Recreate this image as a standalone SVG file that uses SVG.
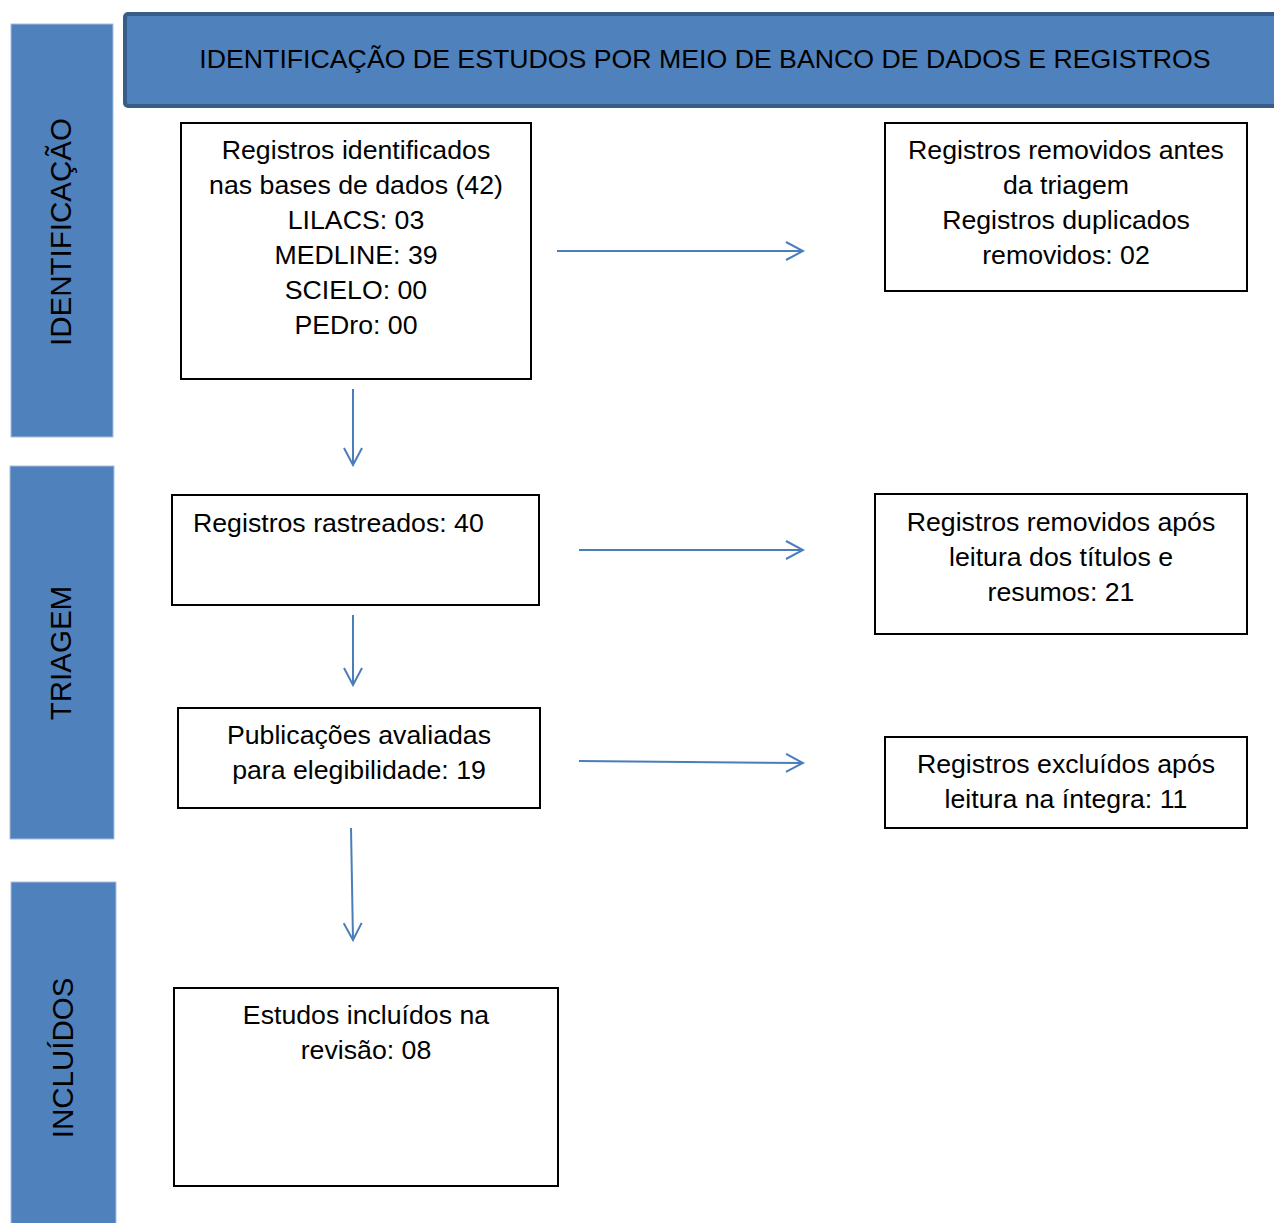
<svg xmlns="http://www.w3.org/2000/svg" width="1274" height="1223" viewBox="0 0 1274 1223">
<defs>
<style>
.side{fill:#4F81BD;stroke:#A8C0E0;stroke-width:1}
.box{fill:#fff;stroke:#000;stroke-width:2}
.t{font-family:"Liberation Sans",Arial,sans-serif;font-size:26.7px;fill:#000;text-anchor:middle}
.sv{font-size:29.5px}
.conn{stroke:#4A7EBB;stroke-width:2;fill:none;marker-end:url(#ah)}
</style>
<marker id="ah" viewBox="0 0 20 20" refX="18" refY="10" markerWidth="20" markerHeight="20" markerUnits="userSpaceOnUse" orient="auto">
<path d="M1,1 L18,10 L1,19" fill="none" stroke="#4A7EBB" stroke-width="2"/>
</marker>
</defs>
<rect width="1274" height="1223" fill="#fff"/>
<g id="side-identificacao">
<rect class="side" x="11" y="24" width="102" height="413"/>
<text class="t sv" transform="translate(60,232) rotate(-90)" dominant-baseline="central">IDENTIFICAÇÃO</text>
</g>
<g id="side-triagem">
<rect class="side" x="10" y="466" width="104" height="373"/>
<text class="t sv" transform="translate(60,653) rotate(-90)" dominant-baseline="central">TRIAGEM</text>
</g>
<g id="side-incluidos">
<rect class="side" x="11" y="882" width="105" height="345"/>
<text class="t sv" transform="translate(62,1058) rotate(-90)" dominant-baseline="central">INCLUÍDOS</text>
</g>
<g id="header">
<rect x="125" y="14" width="1160" height="92" rx="3" fill="#4F81BD" stroke="#385D8A" stroke-width="4"/>
<text class="t" x="705" y="68">IDENTIFICAÇÃO DE ESTUDOS POR MEIO DE BANCO DE DADOS E REGISTROS</text>
</g>
<g id="identificados">
<rect class="box" x="181" y="123" width="350" height="256"/>
<text class="t" x="356" y="159">Registros identificados</text>
<text class="t" x="356" y="194">nas bases de dados (42)</text>
<text class="t" x="356" y="229">LILACS: 03</text>
<text class="t" x="356" y="264">MEDLINE: 39</text>
<text class="t" x="356" y="299">SCIELO: 00</text>
<text class="t" x="356" y="334">PEDro: 00</text>
</g>
<g id="removidos">
<rect class="box" x="885" y="123" width="362" height="168"/>
<text class="t" x="1066" y="159">Registros removidos antes</text>
<text class="t" x="1066" y="194">da triagem</text>
<text class="t" x="1066" y="229">Registros duplicados</text>
<text class="t" x="1066" y="264">removidos: 02</text>
</g>
<g id="rastreados">
<rect class="box" x="172" y="495" width="367" height="110"/>
<text class="t" x="193" y="532" style="text-anchor:start">Registros rastreados: 40</text>
</g>
<g id="removidos-titulos">
<rect class="box" x="875" y="494" width="372" height="140"/>
<text class="t" x="1061" y="531">Registros removidos após</text>
<text class="t" x="1061" y="566">leitura dos títulos e</text>
<text class="t" x="1061" y="601">resumos: 21</text>
</g>
<g id="elegibilidade">
<rect class="box" x="178" y="708" width="362" height="100"/>
<text class="t" x="359" y="744">Publicações avaliadas</text>
<text class="t" x="359" y="779">para elegibilidade: 19</text>
</g>
<g id="excluidos">
<rect class="box" x="885" y="737" width="362" height="91"/>
<text class="t" x="1066" y="773">Registros excluídos após</text>
<text class="t" x="1066" y="808">leitura na íntegra: 11</text>
</g>
<g id="incluidos">
<rect class="box" x="174" y="988" width="384" height="198"/>
<text class="t" x="366" y="1024">Estudos incluídos na</text>
<text class="t" x="366" y="1059">revisão: 08</text>
</g>
<g id="connectors">
<line class="conn" x1="557" y1="251" x2="803" y2="251"/>
<line class="conn" x1="353" y1="389" x2="353" y2="465"/>
<line class="conn" x1="579" y1="550" x2="803" y2="550"/>
<line class="conn" x1="353" y1="615" x2="353" y2="685"/>
<line class="conn" x1="579" y1="761" x2="803" y2="763"/>
<line class="conn" x1="351" y1="828" x2="353" y2="940"/>
</g>
</svg>
